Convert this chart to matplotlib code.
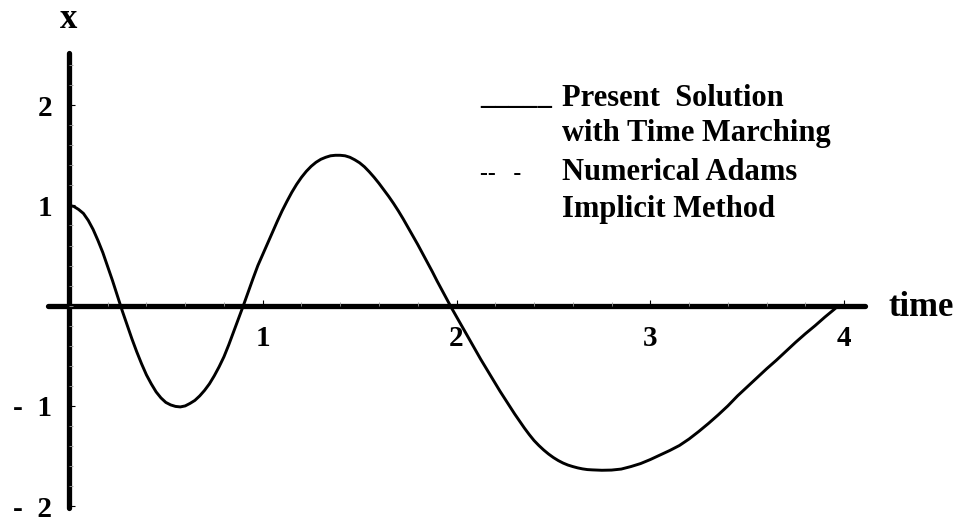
import numpy as np
import matplotlib.pyplot as plt
from matplotlib.ticker import FixedLocator

# displacement x(t) of the oscillator
time = [0.000, 0.025, 0.050, 0.075, 0.100, 0.125, 0.150, 0.175, 0.200, 0.225,
        0.250, 0.275, 0.300, 0.325, 0.350, 0.375, 0.400, 0.425, 0.450, 0.475,
        0.500, 0.525, 0.550, 0.575, 0.600, 0.625, 0.650, 0.675, 0.700, 0.725,
        0.750, 0.775, 0.800, 0.825, 0.850, 0.875, 0.900, 0.925, 0.950, 0.975,
        1.000, 1.025, 1.050, 1.075, 1.100, 1.125, 1.150, 1.175, 1.200, 1.225,
        1.250, 1.275, 1.300, 1.325, 1.350, 1.375, 1.400, 1.425, 1.450, 1.475,
        1.500, 1.525, 1.550, 1.575, 1.600, 1.625, 1.650, 1.675, 1.700, 1.725,
        1.750, 1.775, 1.800, 1.825, 1.850, 1.875, 1.900, 1.925, 1.950, 1.975,
        2.000, 2.025, 2.050, 2.075, 2.100, 2.125, 2.150, 2.175, 2.200, 2.225,
        2.250, 2.275, 2.300, 2.325, 2.350, 2.375, 2.400, 2.425, 2.450, 2.475,
        2.500, 2.525, 2.550, 2.575, 2.600, 2.625, 2.650, 2.675, 2.700, 2.750,
        2.800, 2.850, 2.900, 2.950, 3.000, 3.050, 3.100, 3.150, 3.200, 3.250,
        3.300, 3.350, 3.400, 3.450, 3.500, 3.550, 3.600, 3.650, 3.700, 3.750,
        3.800, 3.850, 3.900, 3.950, 3.970]
x_present = [1.000, 0.990, 0.960, 0.920, 0.850, 0.760, 0.650, 0.530, 0.390, 0.250,
             0.100, -0.050, -0.190, -0.330, -0.460, -0.580, -0.690, -0.780, -0.860, -0.920,
             -0.965, -0.990, -1.005, -1.010, -1.000, -0.975, -0.945, -0.900, -0.845, -0.780,
             -0.700, -0.610, -0.510, -0.390, -0.260, -0.130, 0.000, 0.135, 0.270, 0.400,
             0.510, 0.620, 0.730, 0.840, 0.945, 1.040, 1.130, 1.210, 1.280, 1.340,
             1.390, 1.430, 1.460, 1.480, 1.495, 1.500, 1.500, 1.495, 1.480, 1.455,
             1.425, 1.385, 1.335, 1.280, 1.220, 1.155, 1.090, 1.020, 0.945, 0.865,
             0.780, 0.695, 0.610, 0.520, 0.430, 0.340, 0.245, 0.155, 0.065, -0.025,
             -0.110, -0.195, -0.280, -0.365, -0.450, -0.535, -0.615, -0.695, -0.775, -0.855,
             -0.930, -1.005, -1.080, -1.150, -1.220, -1.285, -1.345, -1.395, -1.440, -1.480,
             -1.515, -1.545, -1.570, -1.590, -1.605, -1.618, -1.628, -1.635, -1.638, -1.642,
             -1.640, -1.630, -1.605, -1.575, -1.535, -1.490, -1.445, -1.395, -1.330, -1.255,
             -1.175, -1.090, -1.000, -0.900, -0.810, -0.720, -0.630, -0.545, -0.455, -0.365,
             -0.280, -0.200, -0.115, -0.035, 0.000]

xticks = [1, 2, 3, 4]
xtick_labels = ['1', '2', '3', '4']
yticks = [-2, -1, 1, 2]
ytick_labels = ['-  2', '-  1', '1', '2']

legend_marks = ['_____', '', '--   -', '']
legend_labels = ['Present  Solution', 'with Time Marching',
                 'Numerical Adams', 'Implicit Method']

plt.rcParams['font.family'] = ['Liberation Serif', 'DejaVu Serif']
plt.rcParams['font.weight'] = 'bold'

W, H = 954, 521
fig = plt.figure(figsize=(W / 100, H / 100), dpi=100)
ax = fig.add_axes([0, 0, 1, 1])
ax.set_xlim(-0.3555, 4.567)
ax.set_ylim(-2.148, 3.049)
ax.patch.set_visible(False)

ax.plot(time, x_present, color='black', lw=2.1, solid_joinstyle='round',
        solid_capstyle='round')

# axes crossing at the origin
for side in ['top', 'right']:
    ax.spines[side].set_visible(False)
ax.spines['left'].set_position(('data', 0))
ax.spines['bottom'].set_position(('data', 0))
ax.spines['left'].set_bounds(-2.02, 2.525)
ax.spines['bottom'].set_bounds(-0.108, 4.108)
for side in ['left', 'bottom']:
    ax.spines[side].set_linewidth(3.8)
    ax.spines[side].set_capstyle('round')
    ax.spines[side].set_zorder(1)

ax.xaxis.set_major_locator(FixedLocator(xticks))
ax.xaxis.set_minor_locator(FixedLocator(np.arange(0.2, 4.01, 0.2)))
ax.set_xticklabels(xtick_labels)
ax.yaxis.set_major_locator(FixedLocator(yticks))
ax.yaxis.set_minor_locator(FixedLocator(np.arange(-1.8, 2.41, 0.2)))
ax.set_yticklabels(ytick_labels)

ax.tick_params(axis='x', which='major', direction='in', length=4.5, width=0.8,
               labelsize=21, pad=14)
ax.tick_params(axis='y', which='major', direction='in', length=4.5, width=0.8,
               labelsize=21, pad=12)
ax.tick_params(which='minor', direction='in', length=3.2, width=0.6, color='0.6')

# axis names
fig.text(69 / W, 1 - 28 / H, 'x', fontsize=25, ha='center', va='baseline')
fig.text(889 / W, 1 - 316 / H, 'time', fontsize=25, ha='left', va='baseline')

# legend written as plain text lines
baselines = [106.5, 140.5, 180, 216.5]
for mark, label, yb in zip(legend_marks, legend_labels, baselines):
    if mark.startswith('_'):
        fig.text(480 / W, 1 - (yb - 3) / H, mark, fontsize=20.7,
                 ha='left', va='baseline')
    elif mark:
        fig.text(480 / W, 1 - yb / H, mark, fontsize=17, ha='left', va='baseline')
    fig.text(561.7 / W, 1 - yb / H, label, fontsize=22, ha='left', va='baseline')

fig.savefig('out.png', dpi=100)
